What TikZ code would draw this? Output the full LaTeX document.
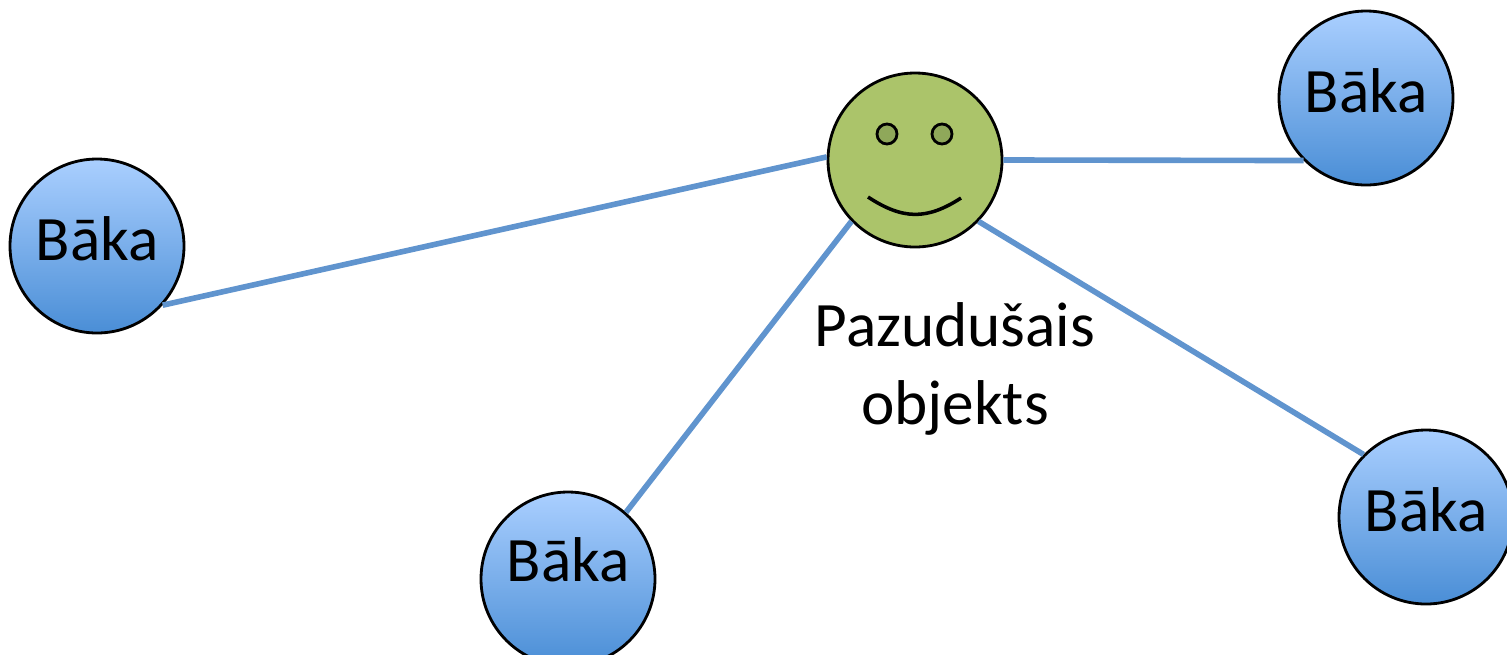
\documentclass[tikz,border=0pt]{standalone}
\usepackage{fontspec}
\setmainfont{Carlito}
\usepackage{tikz}
\usepackage{xcolor}
\usetikzlibrary{calc}
\definecolor{bakatop}{RGB}{170,207,255}
\definecolor{bakabot}{RGB}{74,142,214}
\definecolor{linkblue}{RGB}{96,148,206}
\definecolor{facegreen}{RGB}{171,196,106}
\definecolor{eyegreen}{RGB}{143,168,90}
\newcommand{\baka}[3]{
    \node[baka, #3] (#1) at (#2) {Bāka};
}
\newcommand{\smiley}[2]{
    \node[face] (#1) at (#2) {};
    \draw[eye] ($(#1) + (-0.28, 0.26)$) circle (0.1);
    \draw[eye] ($(#1) + (0.27, 0.26)$) circle (0.1);
    \draw[line width=1pt]
    ($(#1) + (-0.47, -0.37)$) .. controls ($(#1) + (-0.12, -0.6)$) and ($(#1) + (0.12, -0.6)$) .. ($(#1) + (0.46, -0.38)$);
}

\begin{document}
\begin{tikzpicture}[
        baka/.style={circle, draw, line width=0.8pt, minimum size=1.74cm, inner sep=0cm, text depth=0.14cm,
            top color=bakatop, bottom color=bakabot, font=\fontsize{18}{22}\selectfont},
        face/.style={circle, draw, line width=0.8pt, minimum size=1.74cm, fill=facegreen},
        eye/.style={line width=0.8pt, fill=eyegreen},
        link/.style={draw=linkblue, line width=1.6pt}
    ]
                        \useasboundingbox (0, 0) rectangle (15.07, 6.54);
                        \smiley{obj}{9.15, 4.94}
                        \node[align=center, inner sep=0cm, font=\fontsize{18}{22}\selectfont] (objtxt) at (9.55, 2.85) {Pazudušais\\objekts};
                        \baka{bl}{0.97, 4.08}{}
                        \baka{bb}{5.68, 0.75}{text depth=0.38cm}
                        \baka{btr}{13.66, 5.56}{}
                        \baka{bbr}{14.26, 1.37}{}
                        \draw[link]
                        (bl.-42) -- (obj.178)
                        (bb.49) -- (obj.224)
                        (obj.0) -- (btr.225)
                        (obj.-44) -- (bbr.135);
                    \end{tikzpicture}
\end{document}
